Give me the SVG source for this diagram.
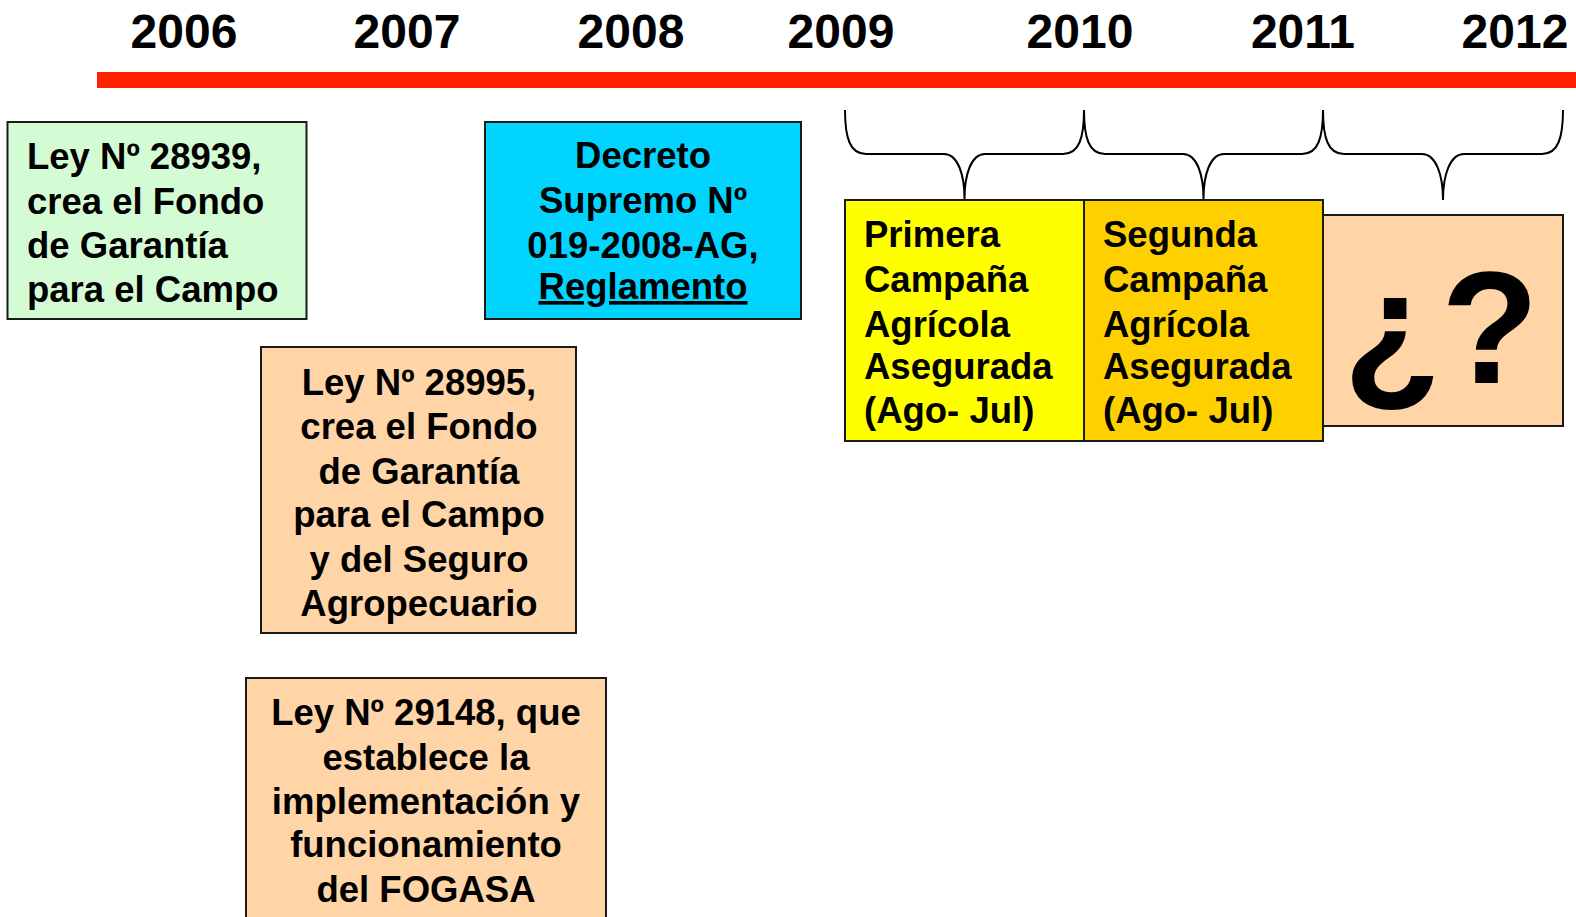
<svg xmlns="http://www.w3.org/2000/svg" width="1576" height="917" viewBox="0 0 1576 917">
<style>
text{font-family:"Liberation Sans",Arial,sans-serif;font-weight:bold;fill:#000}
.yr{font-size:48px;text-anchor:middle}
.t{font-size:36.5px}
.c{text-anchor:middle}
.box{stroke:#1a1a1a;stroke-width:2}
.brace{fill:none;stroke:#000;stroke-width:2}
</style>
<rect width="1576" height="917" fill="#fff"/>
<g id="timeline">
<rect x="97" y="72" width="1479" height="16" fill="#ff2200"/>
<text class="yr" x="184" y="48">2006</text>
<text class="yr" x="407" y="48">2007</text>
<text class="yr" x="631" y="48">2008</text>
<text class="yr" x="841" y="48">2009</text>
<text class="yr" x="1080" y="48">2010</text>
<text class="yr" x="1303" y="48">2011</text>
<text class="yr" x="1515" y="48">2012</text>
</g>
<g id="connectors">
<path class="brace" d="M845,110 C845,138 850,154 866,154 L944,154 C958,154 964.5,175 964.5,199 C964.5,175 971,154 985,154 L1063,154 C1079,154 1084,138 1084,110"/>
<path class="brace" d="M1084,110 C1084,138 1089,154 1105,154 L1183,154 C1197,154 1203.5,175 1203.5,199 C1203.5,175 1210,154 1224,154 L1302,154 C1318,154 1323,138 1323,110"/>
<path class="brace" d="M1323,110 C1323,138 1328,154 1344,154 L1422,154 C1436,154 1443,175 1443,200 C1443,175 1450,154 1464,154 L1542,154 C1558,154 1563,138 1563,110"/>
</g>
<g id="ley28939">
<rect class="box" x="7.5" y="122" width="299" height="197" fill="#d4fcd4"/>
<text class="t" x="27" y="169">Ley Nº 28939,</text>
<text class="t" x="27" y="213.5">crea el Fondo</text>
<text class="t" x="27" y="258">de Garantía</text>
<text class="t" x="27" y="302">para el Campo</text>
</g>
<g id="decreto">
<rect class="box" x="485" y="122" width="316" height="197" fill="#00d4ff"/>
<text class="t c" x="643" y="168">Decreto</text>
<text class="t c" x="643" y="213">Supremo Nº</text>
<text class="t c" x="643" y="258">019-2008-AG,</text>
<text class="t c" x="643" y="299" text-decoration="underline">Reglamento</text>
</g>
<g id="ley28995">
<rect class="box" x="261" y="347" width="315" height="286" fill="#ffd5a7"/>
<text class="t c" x="419" y="395">Ley Nº 28995,</text>
<text class="t c" x="419" y="439">crea el Fondo</text>
<text class="t c" x="419" y="484">de Garantía</text>
<text class="t c" x="419" y="527">para el Campo</text>
<text class="t c" x="419" y="572">y del Seguro</text>
<text class="t c" x="419" y="616">Agropecuario</text>
</g>
<g id="ley29148">
<rect class="box" x="246" y="678" width="360" height="260" fill="#ffd5a7"/>
<text class="t c" x="426" y="725">Ley Nº 29148, que</text>
<text class="t c" x="426" y="770">establece la</text>
<text class="t c" x="426" y="814">implementación y</text>
<text class="t c" x="426" y="857">funcionamiento</text>
<text class="t c" x="426" y="902">del FOGASA</text>
</g>
<g id="campana1">
<rect class="box" x="845" y="200" width="239" height="241" fill="#ffff00"/>
<text class="t" x="864" y="247">Primera</text>
<text class="t" x="864" y="292">Campaña</text>
<text class="t" x="864" y="337">Agrícola</text>
<text class="t" x="864" y="379">Asegurada</text>
<text class="t" x="864" y="423">(Ago- Jul)</text>
</g>
<g id="campana2">
<rect class="box" x="1084" y="200" width="239" height="241" fill="#ffd000"/>
<text class="t" x="1103" y="247">Segunda</text>
<text class="t" x="1103" y="292">Campaña</text>
<text class="t" x="1103" y="337">Agrícola</text>
<text class="t" x="1103" y="379">Asegurada</text>
<text class="t" x="1103" y="423">(Ago- Jul)</text>
</g>
<g id="futuro">
<rect class="box" x="1323" y="215" width="240" height="211" fill="#ffd5a7"/>
<text x="1441" y="383" font-size="160" text-anchor="middle">¿?</text>
</g>
</svg>
